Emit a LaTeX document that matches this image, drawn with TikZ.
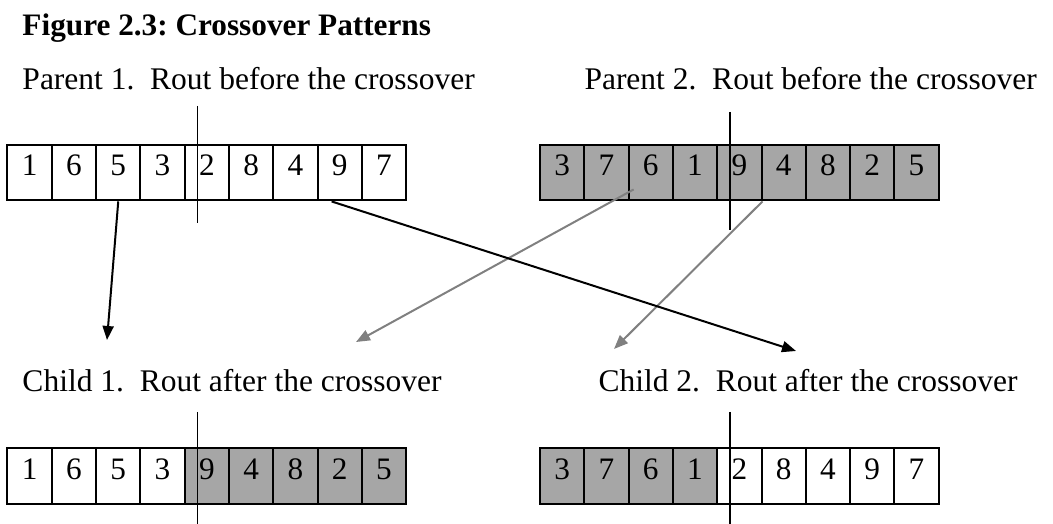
\documentclass[tikz,border=0pt]{standalone}
\usepackage{fontspec}
\setmainfont{Liberation Serif}
\usetikzlibrary{arrows.meta, calc}
\definecolor{cellgray}{RGB}{166,166,166}
\definecolor{linkgray}{RGB}{128,128,128}
\frenchspacing

\begin{document}
\begin{tikzpicture}[x=0.4pt, y=-0.4pt,
    cell/.style={draw, line width=0.8pt, minimum width=17.72pt, minimum height=22.2pt,
      inner sep=0pt, text height=9pt, text depth=6.4pt, font=\fontsize{12.5}{15}\selectfont},
    rowtext/.style={anchor=base west, inner sep=0pt, font=\fontsize{12.6}{15}\selectfont},
    cut/.style={line width=0.6pt},
    move/.style={line width=0.8pt, -{Triangle[length=5.6pt, width=4.4pt]}}]
    \useasboundingbox (0,0) rectangle (1053,524);

    % titles
    \node[rowtext, font=\fontsize{12.5}{15}\selectfont\bfseries] (title) at (22,36) {Figure 2.3: Crossover Patterns};
    \node[rowtext] (patext) at (22,90) {Parent 1.\ \ Rout before the crossover};
    \node[rowtext] (pbtext) at (584,90) {Parent 2.\ \ Rout before the crossover};
    \node[rowtext] (catext) at (22,392) {Child 1.\ \ Rout after the crossover};
    \node[rowtext] (cbtext) at (598,392) {Child 2.\ \ Rout after the crossover};

    % parents
    \foreach \d [count=\i] in {1,6,5,3,2,8,4,9,7} {
      \node[cell] (pa\i) at ({7.5+(\i-0.5)*44.3},172.7) {\d};
    }
    \foreach \d [count=\i] in {3,7,6,1,9,4,8,2,5} {
      \node[cell, fill=cellgray] (pb\i) at ({540+(\i-0.5)*44.3},172.7) {\d};
    }

    % children
    \foreach \d/\f [count=\i] in {1/white,6/white,5/white,3/white,9/cellgray,4/cellgray,8/cellgray,2/cellgray,5/cellgray} {
      \node[cell, fill=\f] (ca\i) at ({7.5+(\i-0.5)*44.3},476) {\d};
    }
    \foreach \d/\f [count=\i] in {3/cellgray,7/cellgray,6/cellgray,1/cellgray,2/white,8/white,4/white,9/white,7/white} {
      \node[cell, fill=\f] (cb\i) at ({540+(\i-0.5)*44.3},476) {\d};
    }

    % crossover points
    \coordinate (pacut) at ($(pa5.west)!0.3!(pa5.east)$);
    \coordinate (pbcut) at ($(pb5.west)!0.3!(pb5.east)$);
    \draw[cut] (pacut |- 0,106) -- (pacut |- 0,223);
    \draw[cut] (pbcut |- 0,112) -- (pbcut |- 0,230);
    \draw[cut] (pacut |- 0,412) -- (pacut |- 0,524);
    \draw[cut] (pbcut |- 0,412) -- (pbcut |- 0,524);

    % links
    \coordinate (tipa) at (107,340);
    \coordinate (tipb) at (796,351);
    \coordinate (tipc) at (356,342);
    \coordinate (tipd) at (614,349);
    \draw[move, linkgray] ($(pb3.south west)+(6,-12)$) -- (tipc);
    \draw[move, linkgray] (pb5.south east) -- (tipd);
    \draw[move] (pa3.south) -- (tipa);
    \draw[move] ($(pa8.south west)+(15,0)$) -- (tipb);
  \end{tikzpicture}
\end{document}
